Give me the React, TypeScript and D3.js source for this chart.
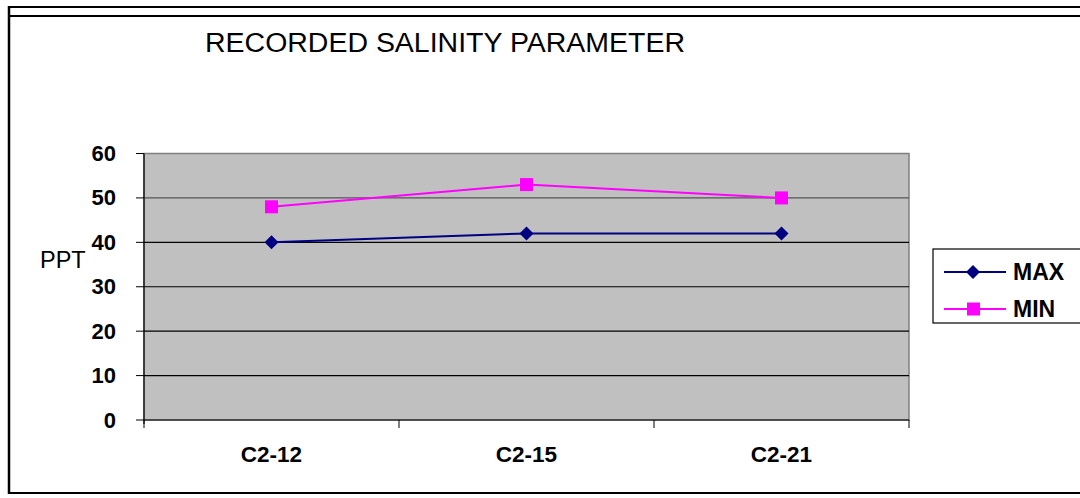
import React from "react";
import * as d3 from "d3";

const categories = ["C2-12", "C2-15", "C2-21"];
const maxValues = [40, 42, 42];
const minValues = [48, 53, 50];
const yTicks = [0, 10, 20, 30, 40, 50, 60];
const seriesNames = ["MAX", "MIN"];
const title = "RECORDED SALINITY PARAMETER";
const yLabel = "PPT";

export default function App() {
  const W = 1080, H = 498;
  const left = 144, right = 909, top = 153.5, bottom = 420;
  const x = d3.scaleBand<string>().domain(categories).range([left, right]);
  const y = d3.scaleLinear().domain([0, 60]).range([bottom, top]);
  const cx = (c: string) => (x(c) as number) + x.bandwidth() / 2;
  const line = d3.line<[number, number]>().x(d => d[0]).y(d => d[1]);
  const maxPts: [number, number][] = categories.map((c, i) => [cx(c), y(maxValues[i])]);
  const minPts: [number, number][] = categories.map((c, i) => [cx(c), y(minValues[i])]);
  const navy = "#000080", mag = "#FF00FF";
  const font = "'Liberation Sans', Arial, sans-serif";
  const diamond = (px: number, py: number, r = 7) =>
    `M${px},${py - r}L${px + r},${py}L${px},${py + r}L${px - r},${py}Z`;
  const boundaries = [...categories.map(c => x(c) as number), right];

  return (
    <svg width={W} height={H} style={{ position: "absolute", left: 0, top: 0 }} fontFamily={font}>
      <rect x={0} y={0} width={W} height={H} fill="#fff" />
      {/* outer frame */}
      <line x1={9} x2={W} y1={7} y2={7} stroke="#000" strokeWidth={2} />
      <line x1={9} x2={W} y1={16} y2={16} stroke="#000" strokeWidth={2} />
      <line x1={9} x2={9} y1={6} y2={494} stroke="#000" strokeWidth={2.5} />
      <line x1={8} x2={W} y1={493} y2={493} stroke="#000" strokeWidth={2} />

      <text x={205} y={52} fontSize={27} textLength={480} lengthAdjust="spacingAndGlyphs" fill="#000">{title}</text>

      {/* plot area */}
      <rect x={left} y={top} width={right - left} height={bottom - top} fill="#C0C0C0" stroke="#808080" strokeWidth={1.5} />
      {yTicks.map(t => (
        <g key={t}>
          {t > 0 && t < 60 && (
            <line x1={left} x2={right} y1={y(t)} y2={y(t)} stroke={t === 50 ? "#555" : "#000"} strokeWidth={1.2} />
          )}
          <line x1={left - 8} x2={left} y1={y(t)} y2={y(t)} stroke="#000" strokeWidth={1} />
          <text x={116} y={y(t) + 7.5} fontSize={22} fontWeight="bold" textAnchor="end" fill="#000">{t}</text>
        </g>
      ))}
      <line x1={left} x2={left} y1={top} y2={bottom + 4} stroke="#000" strokeWidth={1.2} />
      <line x1={left} x2={right} y1={bottom} y2={bottom} stroke="#000" strokeWidth={1.2} />
      {boundaries.map((b, i) => (
        <line key={i} x1={b} x2={b} y1={bottom} y2={bottom + 8} stroke="#000" strokeWidth={1} />
      ))}
      {categories.map(c => (
        <text key={c} x={cx(c)} y={462} fontSize={22.5} fontWeight="bold" textAnchor="middle" fill="#000">{c}</text>
      ))}
      <text x={40} y={268} fontSize={23.5} fill="#000">{yLabel}</text>

      {/* series */}
      <path d={line(minPts) || ""} fill="none" stroke={mag} strokeWidth={2} />
      <path d={line(maxPts) || ""} fill="none" stroke={navy} strokeWidth={2} />
      {minPts.map((p, i) => (
        <rect key={i} x={p[0] - 6.5} y={p[1] - 6.5} width={13} height={13} fill={mag} />
      ))}
      {maxPts.map((p, i) => (
        <path key={i} d={diamond(p[0], p[1])} fill={navy} />
      ))}

      {/* legend */}
      <rect x={933} y={249} width={150} height={74} fill="#fff" stroke="#000" strokeWidth={1.2} />
      {seriesNames.map((s, i) => {
        const ly = 272 + i * 37;
        const col = i === 0 ? navy : mag;
        return (
          <g key={s}>
            <line x1={944} x2={1006} y1={ly} y2={ly} stroke={col} strokeWidth={2} />
            {i === 0 ? (
              <path d={diamond(973, ly)} fill={navy} />
            ) : (
              <rect x={967} y={ly - 6.5} width={13} height={13} fill={mag} />
            )}
            <text x={1013} y={ly + 7.5} fontSize={23} fontWeight="bold" fill="#000">{s}</text>
          </g>
        );
      })}
    </svg>
  );
}
